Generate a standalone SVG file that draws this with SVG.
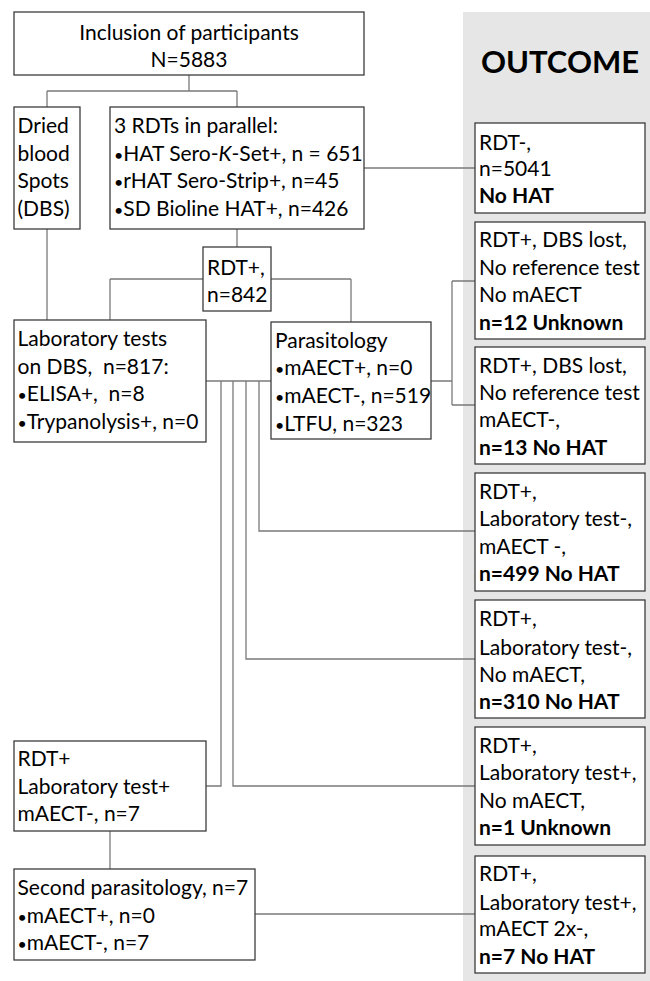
<svg xmlns="http://www.w3.org/2000/svg" width="650" height="981" viewBox="0 0 650 981">
<style>
.bx{fill:#fff;stroke:#3c3c3c;stroke-width:1.3}
.ln{fill:none;stroke:#7a7a7a;stroke-width:1.3}
text{font-family:Lato,"Open Sans","Liberation Sans",sans-serif;font-size:21px;fill:#000}
.b{font-weight:bold}
.c{text-anchor:middle}
.bu{font-size:16px}
</style>
<rect x="463" y="12" width="187" height="969" fill="#e6e6e6"/>
<text class="b c" x="560" y="73" style="font-size:31px">OUTCOME</text>
<g id="connectors">
<path class="ln" d="M189 75V91M47 91H237M47 91V107M237 91V107"/>
<path class="ln" d="M364 168H475"/>
<path class="ln" d="M237 229V247"/>
<path class="ln" d="M110 279H351M110 279V320M351 279V322M47 229V320"/>
<path class="ln" d="M206 381H271"/>
<path class="ln" d="M431 381H452M452 281V405M452 281H475M452 405H475"/>
<path class="ln" d="M259 381V531H475"/>
<path class="ln" d="M246 381V659H475"/>
<path class="ln" d="M233 381V786H475"/>
<path class="ln" d="M221 381V786H206"/>
<path class="ln" d="M110 831V869"/>
<path class="ln" d="M255 914H475"/>
</g>
<g id="inclusion"><rect class="bx" x="14" y="12" width="350" height="63"/>
<text class="c" x="189" y="40">Inclusion of participants</text>
<text class="c" x="189" y="67">N=5883</text></g>
<g id="dbs"><rect class="bx" x="14" y="107" width="66" height="122"/>
<text x="17.5" y="133">Dried</text><text x="17.5" y="161">blood</text><text x="17.5" y="188">Spots</text><text x="17.5" y="216">(DBS)</text></g>
<g id="rdts"><rect class="bx" x="110" y="107" width="254" height="122"/>
<text x="114" y="133">3 RDTs in parallel:</text>
<text x="114" y="161"><tspan class="bu">•</tspan>HAT Sero-<tspan font-style="italic">K</tspan>-Set+, n = 651</text>
<text x="114" y="188"><tspan class="bu">•</tspan>rHAT Sero-Strip+, n=45</text>
<text x="114" y="216"><tspan class="bu">•</tspan>SD Bioline HAT+, n=426</text></g>
<g id="rdtpos"><rect class="bx" x="203" y="247" width="68" height="64"/>
<text x="207" y="275">RDT+,</text><text x="207" y="302">n=842</text></g>
<g id="lab"><rect class="bx" x="14" y="320" width="192" height="122"/>
<text x="17.5" y="346">Laboratory tests</text>
<text x="17.5" y="374" xml:space="preserve">on DBS,  n=817:</text>
<text x="17.5" y="401" xml:space="preserve"><tspan class="bu">•</tspan>ELISA+,  n=8</text>
<text x="17.5" y="429"><tspan class="bu">•</tspan>Trypanolysis+, n=0</text></g>
<g id="parasitology"><rect class="bx" x="271" y="322" width="160" height="117"/>
<text x="275" y="348">Parasitology</text>
<text x="275" y="375"><tspan class="bu">•</tspan>mAECT+, n=0</text>
<text x="275" y="403"><tspan class="bu">•</tspan>mAECT-, n=519</text>
<text x="275" y="431"><tspan class="bu">•</tspan>LTFU, n=323</text></g>
<g id="labpos"><rect class="bx" x="14" y="741" width="192" height="90"/>
<text x="17.5" y="766">RDT+</text>
<text x="17.5" y="794">Laboratory test+</text>
<text x="17.5" y="821">mAECT-, n=7</text></g>
<g id="second"><rect class="bx" x="14" y="869" width="241" height="91"/>
<text x="17.5" y="895">Second parasitology, n=7</text>
<text x="17.5" y="923"><tspan class="bu">•</tspan>mAECT+, n=0</text>
<text x="17.5" y="950"><tspan class="bu">•</tspan>mAECT-, n=7</text></g>
<g id="out1"><rect class="bx" x="475" y="123" width="170" height="90"/>
<text x="479" y="150">RDT-,</text><text x="479" y="176">n=5041</text><text class="b" x="479" y="203">No HAT</text></g>
<g id="out2"><rect class="bx" x="475" y="222" width="170" height="117"/>
<text x="479" y="247">RDT+, DBS lost,</text><text x="479" y="275">No reference test</text><text x="479" y="302">No mAECT</text><text class="b" x="479" y="330">n=12 Unknown</text></g>
<g id="out3"><rect class="bx" x="475" y="347" width="170" height="117"/>
<text x="479" y="373">RDT+, DBS lost,</text><text x="479" y="400">No reference test</text><text x="479" y="427">mAECT-,</text><text class="b" x="479" y="455">n=13 No HAT</text></g>
<g id="out4"><rect class="bx" x="475" y="473" width="170" height="118"/>
<text x="479" y="499">RDT+,</text><text x="479" y="526">Laboratory test-,</text><text x="479" y="554">mAECT -,</text><text class="b" x="479" y="581">n=499 No HAT</text></g>
<g id="out5"><rect class="bx" x="475" y="600" width="170" height="118"/>
<text x="479" y="626">RDT+,</text><text x="479" y="655">Laboratory test-,</text><text x="479" y="682">No mAECT,</text><text class="b" x="479" y="709">n=310 No HAT</text></g>
<g id="out6"><rect class="bx" x="475" y="727" width="170" height="118"/>
<text x="479" y="753">RDT+,</text><text x="479" y="780">Laboratory test+,</text><text x="479" y="808">No mAECT,</text><text class="b" x="479" y="835">n=1 Unknown</text></g>
<g id="out7"><rect class="bx" x="475" y="856" width="170" height="117"/>
<text x="479" y="881">RDT+,</text><text x="479" y="910">Laboratory test+,</text><text x="479" y="936">mAECT 2x-,</text><text class="b" x="479" y="964">n=7 No HAT</text></g>
</svg>
